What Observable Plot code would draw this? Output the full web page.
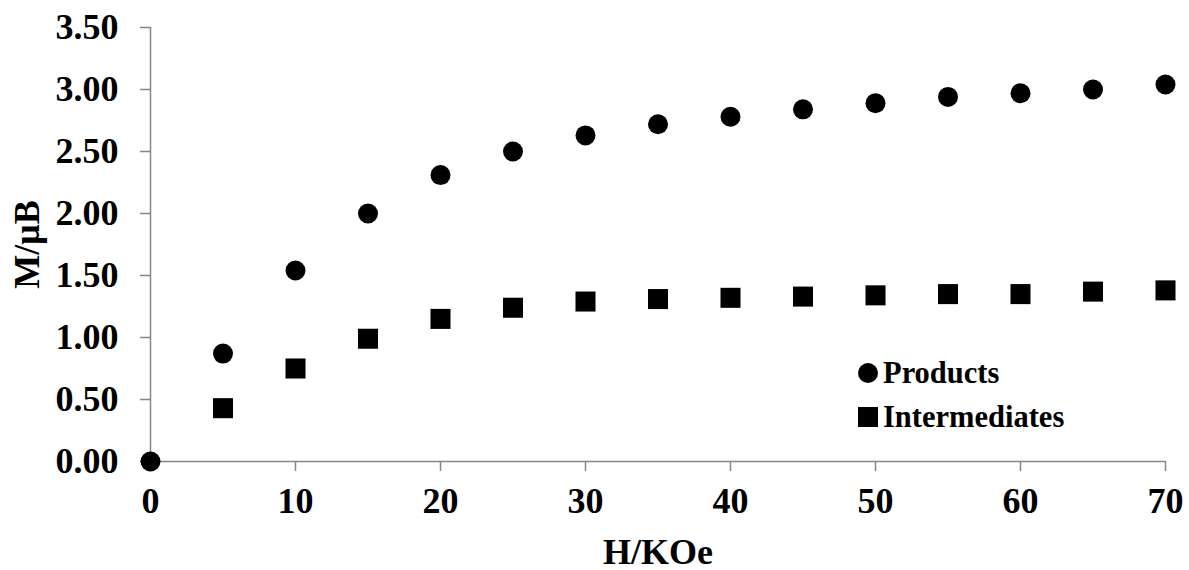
<!DOCTYPE html>
<html>
<head>
<meta charset="utf-8">
<script src="https://cdn.jsdelivr.net/npm/d3@7"></script>
<script src="https://cdn.jsdelivr.net/npm/@observablehq/plot@0.6"></script>
<style>
  html, body { margin: 0; padding: 0; background: #fff; }
  #wrap { position: relative; width: 1189px; height: 570px; font-family: "Liberation Serif", "Times New Roman", serif; font-weight: bold; }
  .legend { position: absolute; left: 858px; top: 351px; font-size: 30.5px; color: #000; line-height: 44px; }
  .legend .item { display: flex; align-items: center; }
  .legend .sym { display: inline-block; width: 20px; height: 20px; background: #000; margin-right: 5px; }
  .legend .circ { border-radius: 50%; }
</style>
</head>
<body>
<div id="wrap"></div>
<script>
const fields = [0, 5, 10, 15, 20, 25, 30, 35, 40, 45, 50, 55, 60, 65, 70];
const products = [0, 0.87, 1.54, 2.00, 2.31, 2.50, 2.63, 2.72, 2.78, 2.84, 2.89, 2.94, 2.97, 3.00, 3.04];
const intermediates = [null, 0.43, 0.75, 0.99, 1.15, 1.24, 1.29, 1.31, 1.32, 1.33, 1.34, 1.35, 1.35, 1.37, 1.38];
const xTicks = [0, 10, 20, 30, 40, 50, 60, 70];
const yTicks = [0, 0.5, 1.0, 1.5, 2.0, 2.5, 3.0, 3.5];
const seriesNames = ["Products", "Intermediates"];

const data = [];
fields.forEach((h, i) => {
  if (products[i] != null) data.push({H: h, M: products[i], series: seriesNames[0]});
  if (intermediates[i] != null) data.push({H: h, M: intermediates[i], series: seriesNames[1]});
});

const axisColor = "#868686";

const chart = Plot.plot({
  width: 1189,
  height: 570,
  marginLeft: 150,
  marginRight: 24,
  marginTop: 27,
  marginBottom: 109,
  style: { fontFamily: "'Liberation Serif', 'Times New Roman', serif", fontWeight: "bold", fontSize: "36px", color: "#000", background: "#fff", overflow: "visible" },
  x: { domain: [0, 70] },
  y: { domain: [0, 3.5] },
  marks: [
    Plot.axisX({ ticks: xTicks, tickSize: 10, tickPadding: 16, stroke: axisColor, strokeWidth: 1.5, tickFormat: d3.format("d"), label: "H/KOe", labelAnchor: "center", labelArrow: "none", labelOffset: 102, fill: "#000", fontSize: 36 }),
    Plot.axisY({ ticks: yTicks, tickSize: 10, tickPadding: 22, stroke: axisColor, strokeWidth: 1.5, tickFormat: d3.format(".2f"), label: "M/μB", labelAnchor: "center", labelArrow: "none", labelOffset: 137, fill: "#000", fontSize: 36 }),
    Plot.ruleY([0], { stroke: axisColor, strokeWidth: 1.5 }),
    Plot.ruleX([0], { stroke: axisColor, strokeWidth: 1.5 }),
    Plot.dot(data.filter(d => d.series === "Intermediates"), { x: "H", y: "M", symbol: "square", r: 11.3, fill: "#000", stroke: "none" }),
    Plot.dot(data.filter(d => d.series === "Products"), { x: "H", y: "M", symbol: "circle", r: 10, fill: "#000", stroke: "none" })
  ]
});

const wrap = document.getElementById("wrap");
wrap.appendChild(chart);
const legend = document.createElement("div");
legend.className = "legend";
legend.innerHTML = seriesNames.map((n, i) =>
  `<div class="item"><span class="sym ${i === 0 ? "circ" : ""}"></span>${n}</div>`).join("");
wrap.appendChild(legend);
</script>
</body>
</html>
